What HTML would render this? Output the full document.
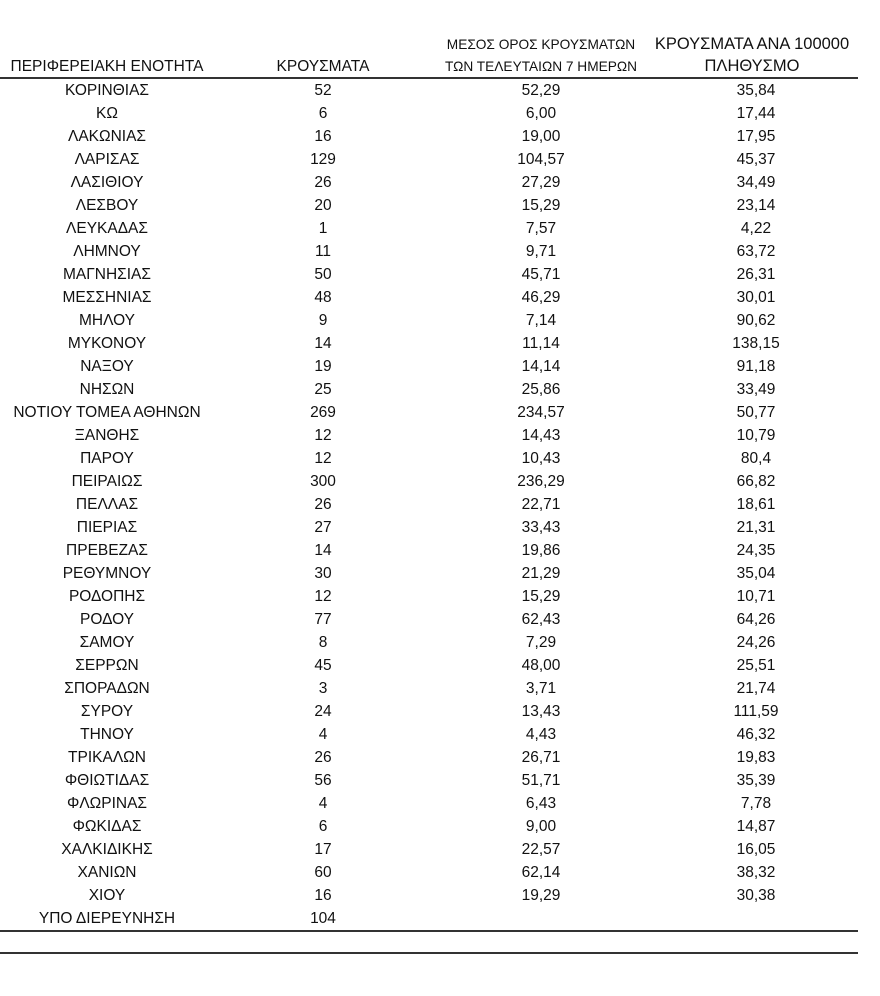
<!DOCTYPE html>
<html><head><meta charset="utf-8"><style>
body{margin:0;background:#fff;width:880px;height:996px;position:relative;overflow:hidden;font-family:"Liberation Sans","DejaVu Sans",sans-serif;color:#111;font-size:15.5px}
.h{position:absolute;text-align:center;line-height:22px;font-size:15.5px;white-space:nowrap}
.rows{position:absolute;top:79px;left:0;width:880px}
.r{height:23px;line-height:23px;position:relative}
.r span{position:absolute;text-align:center;top:0;white-space:nowrap}
.r span:nth-child(1){left:-13px;width:240px}
.r span:nth-child(2){left:273px;width:100px}
.r span:nth-child(3){left:491px;width:100px}
.r span:nth-child(4){left:706px;width:100px}
.line{position:absolute;left:0;width:858px;height:2px;background:#333}
</style></head><body>
<div class="h" style="left:-13px;width:240px;top:56px">ΠΕΡΙΦΕΡΕΙΑΚΗ ΕΝΟΤΗΤΑ</div>
<div class="h" style="left:263px;width:120px;top:56px">ΚΡΟΥΣΜΑΤΑ</div>
<div class="h" style="left:431px;width:220px;top:34px;font-size:13.7px">ΜΕΣΟΣ ΟΡΟΣ ΚΡΟΥΣΜΑΤΩΝ<br>ΤΩΝ ΤΕΛΕΥΤΑΙΩΝ 7 ΗΜΕΡΩΝ</div>
<div class="h" style="left:642px;width:220px;top:33px;font-size:16.5px">ΚΡΟΥΣΜΑΤΑ ΑΝΑ 100000<br>ΠΛΗΘΥΣΜΟ</div>
<div class="line" style="top:77px;height:2px"></div>
<div class="rows">
<div class="r"><span>ΚΟΡΙΝΘΙΑΣ</span><span>52</span><span>52,29</span><span>35,84</span></div>
<div class="r"><span>ΚΩ</span><span>6</span><span>6,00</span><span>17,44</span></div>
<div class="r"><span>ΛΑΚΩΝΙΑΣ</span><span>16</span><span>19,00</span><span>17,95</span></div>
<div class="r"><span>ΛΑΡΙΣΑΣ</span><span>129</span><span>104,57</span><span>45,37</span></div>
<div class="r"><span>ΛΑΣΙΘΙΟΥ</span><span>26</span><span>27,29</span><span>34,49</span></div>
<div class="r"><span>ΛΕΣΒΟΥ</span><span>20</span><span>15,29</span><span>23,14</span></div>
<div class="r"><span>ΛΕΥΚΑΔΑΣ</span><span>1</span><span>7,57</span><span>4,22</span></div>
<div class="r"><span>ΛΗΜΝΟΥ</span><span>11</span><span>9,71</span><span>63,72</span></div>
<div class="r"><span>ΜΑΓΝΗΣΙΑΣ</span><span>50</span><span>45,71</span><span>26,31</span></div>
<div class="r"><span>ΜΕΣΣΗΝΙΑΣ</span><span>48</span><span>46,29</span><span>30,01</span></div>
<div class="r"><span>ΜΗΛΟΥ</span><span>9</span><span>7,14</span><span>90,62</span></div>
<div class="r"><span>ΜΥΚΟΝΟΥ</span><span>14</span><span>11,14</span><span>138,15</span></div>
<div class="r"><span>ΝΑΞΟΥ</span><span>19</span><span>14,14</span><span>91,18</span></div>
<div class="r"><span>ΝΗΣΩΝ</span><span>25</span><span>25,86</span><span>33,49</span></div>
<div class="r"><span>ΝΟΤΙΟΥ ΤΟΜΕΑ ΑΘΗΝΩΝ</span><span>269</span><span>234,57</span><span>50,77</span></div>
<div class="r"><span>ΞΑΝΘΗΣ</span><span>12</span><span>14,43</span><span>10,79</span></div>
<div class="r"><span>ΠΑΡΟΥ</span><span>12</span><span>10,43</span><span>80,4</span></div>
<div class="r"><span>ΠΕΙΡΑΙΩΣ</span><span>300</span><span>236,29</span><span>66,82</span></div>
<div class="r"><span>ΠΕΛΛΑΣ</span><span>26</span><span>22,71</span><span>18,61</span></div>
<div class="r"><span>ΠΙΕΡΙΑΣ</span><span>27</span><span>33,43</span><span>21,31</span></div>
<div class="r"><span>ΠΡΕΒΕΖΑΣ</span><span>14</span><span>19,86</span><span>24,35</span></div>
<div class="r"><span>ΡΕΘΥΜΝΟΥ</span><span>30</span><span>21,29</span><span>35,04</span></div>
<div class="r"><span>ΡΟΔΟΠΗΣ</span><span>12</span><span>15,29</span><span>10,71</span></div>
<div class="r"><span>ΡΟΔΟΥ</span><span>77</span><span>62,43</span><span>64,26</span></div>
<div class="r"><span>ΣΑΜΟΥ</span><span>8</span><span>7,29</span><span>24,26</span></div>
<div class="r"><span>ΣΕΡΡΩΝ</span><span>45</span><span>48,00</span><span>25,51</span></div>
<div class="r"><span>ΣΠΟΡΑΔΩΝ</span><span>3</span><span>3,71</span><span>21,74</span></div>
<div class="r"><span>ΣΥΡΟΥ</span><span>24</span><span>13,43</span><span>111,59</span></div>
<div class="r"><span>ΤΗΝΟΥ</span><span>4</span><span>4,43</span><span>46,32</span></div>
<div class="r"><span>ΤΡΙΚΑΛΩΝ</span><span>26</span><span>26,71</span><span>19,83</span></div>
<div class="r"><span>ΦΘΙΩΤΙΔΑΣ</span><span>56</span><span>51,71</span><span>35,39</span></div>
<div class="r"><span>ΦΛΩΡΙΝΑΣ</span><span>4</span><span>6,43</span><span>7,78</span></div>
<div class="r"><span>ΦΩΚΙΔΑΣ</span><span>6</span><span>9,00</span><span>14,87</span></div>
<div class="r"><span>ΧΑΛΚΙΔΙΚΗΣ</span><span>17</span><span>22,57</span><span>16,05</span></div>
<div class="r"><span>ΧΑΝΙΩΝ</span><span>60</span><span>62,14</span><span>38,32</span></div>
<div class="r"><span>ΧΙΟΥ</span><span>16</span><span>19,29</span><span>30,38</span></div>
<div class="r"><span>ΥΠΟ ΔΙΕΡΕΥΝΗΣΗ</span><span>104</span><span></span><span></span></div>
</div>
<div class="line" style="top:930px"></div>
<div class="line" style="top:952px"></div>
</body></html>
